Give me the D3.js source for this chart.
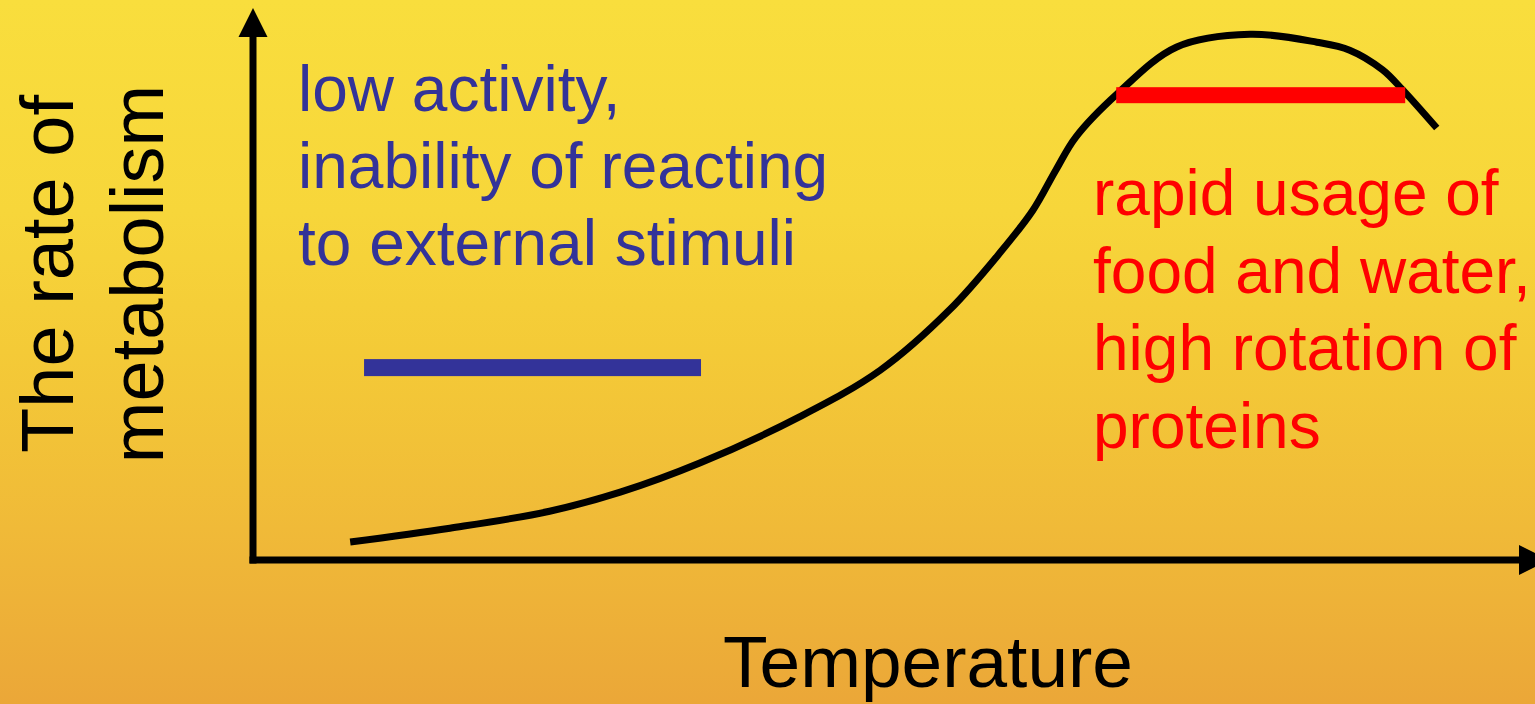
<!DOCTYPE html>
<html>
<head>
<meta charset="utf-8">
<script src="https://cdn.jsdelivr.net/npm/d3@7"></script>
<style>
  html, body { margin: 0; padding: 0; overflow: hidden; }
  svg { display: block; }
  text { font-family: "Liberation Sans", Arial, Helvetica, sans-serif; }
</style>
</head>
<body>
<script>
// Temperature (0–100, arbitrary units) and metabolic rate (0–100) along the curve
const temperature = [7.7, 15.6, 23.5, 29.1, 35.4, 43.3, 49.7, 55.2, 59.2, 61.8, 63.6, 65.2, 68.5, 73.2, 79.0, 84.3, 86.9, 89.5, 91.1, 93.8];
const metabolism  = [3.4, 6.0, 9.2, 12.8, 18.3, 27.0, 35.8, 47.2, 58.0, 66.0, 73.5, 79.8, 88.0, 96.8, 99.2, 97.7, 96.2, 92.5, 88.7, 81.5];

// Highlighted ranges: [start temperature, end temperature, level]
const lowRange  = [8.8, 35.5, 36.3];
const highRange = [68.4, 91.3, 87.7];

const lowNote  = ["low activity,", "inability of reacting", "to external stimuli"];
const highNote = ["rapid usage of", "food and water,", "high rotation of", "proteins"];
const yTitle   = ["The rate of", "metabolism"];
const xTitle   = "Temperature";

const W = 1535, H = 704;
const svg = d3.select("body").append("svg").attr("width", W).attr("height", H);

// Background gradient
const defs = svg.append("defs");
const grad = defs.append("linearGradient").attr("id", "bg").attr("x1", 0).attr("y1", 0).attr("x2", 0).attr("y2", 1);
[[0, "#F9DE3D"], [0.3, "#F7D63A"], [0.5, "#F4CA37"], [0.75, "#F0BA38"], [1, "#EBA738"]]
  .forEach(([o, c]) => grad.append("stop").attr("offset", o).attr("stop-color", c));
svg.append("rect").attr("width", W).attr("height", H).attr("fill", "url(#bg)");

const x = d3.scaleLinear().domain([0, 100]).range([253, 1515]);
const y = d3.scaleLinear().domain([0, 100]).range([560, 30]);

// Axes with arrowheads
const axisColor = "#000";
const ax = svg.append("g");
ax.append("line")
  .attr("x1", x(0)).attr("y1", y(0) + 3.5)
  .attr("x2", x(0)).attr("y2", 34)
  .attr("stroke", axisColor).attr("stroke-width", 7);
ax.append("path")
  .attr("d", `M${x(0)},8 L${x(0) - 14.5},37 L${x(0) + 14.5},37 Z`)
  .attr("fill", axisColor);
ax.append("line")
  .attr("x1", x(0) - 3.5).attr("y1", y(0))
  .attr("x2", 1522).attr("y2", y(0))
  .attr("stroke", axisColor).attr("stroke-width", 7);
ax.append("path")
  .attr("d", `M1519,${y(0) - 15} L1549,${y(0)} L1519,${y(0) + 15} Z`)
  .attr("fill", axisColor);

// Metabolic rate curve
const pts = temperature.map((t, i) => [t, metabolism[i]]);
const line = d3.line().x(d => x(d[0])).y(d => y(d[1])).curve(d3.curveCatmullRom.alpha(0.5));
svg.append("path").attr("d", line(pts))
  .attr("fill", "none").attr("stroke", "#000").attr("stroke-width", 7)
  .attr("stroke-linejoin", "round");

// Range bars
svg.append("rect")
  .attr("x", x(lowRange[0])).attr("width", x(lowRange[1]) - x(lowRange[0]))
  .attr("y", y(lowRange[2]) - 8.5).attr("height", 17)
  .attr("fill", "#333399");
svg.append("rect")
  .attr("x", x(highRange[0])).attr("width", x(highRange[1]) - x(highRange[0]))
  .attr("y", y(highRange[2]) - 8).attr("height", 16)
  .attr("fill", "#FF0000");

// Annotations
const fs = 64;
svg.append("g").selectAll("text").data(lowNote).join("text")
  .attr("x", 298).attr("y", (d, i) => 111 + i * 77)
  .attr("font-size", fs).attr("fill", "#333399").text(d => d);
svg.append("g").selectAll("text").data(highNote).join("text")
  .attr("x", 1093).attr("y", (d, i) => 215 + i * 77.5)
  .attr("font-size", fs).attr("fill", "#FF0000").text(d => d);

// Axis titles
svg.append("g").selectAll("text").data(yTitle).join("text")
  .attr("transform", (d, i) => `translate(${73 + i * 90},274) rotate(-90)`)
  .attr("text-anchor", "middle").attr("font-size", 74).attr("fill", "#000").text(d => d);
svg.append("text")
  .attr("x", 928).attr("y", 687).attr("text-anchor", "middle")
  .attr("font-size", 73).attr("fill", "#000").text(xTitle);
</script>
</body>
</html>
